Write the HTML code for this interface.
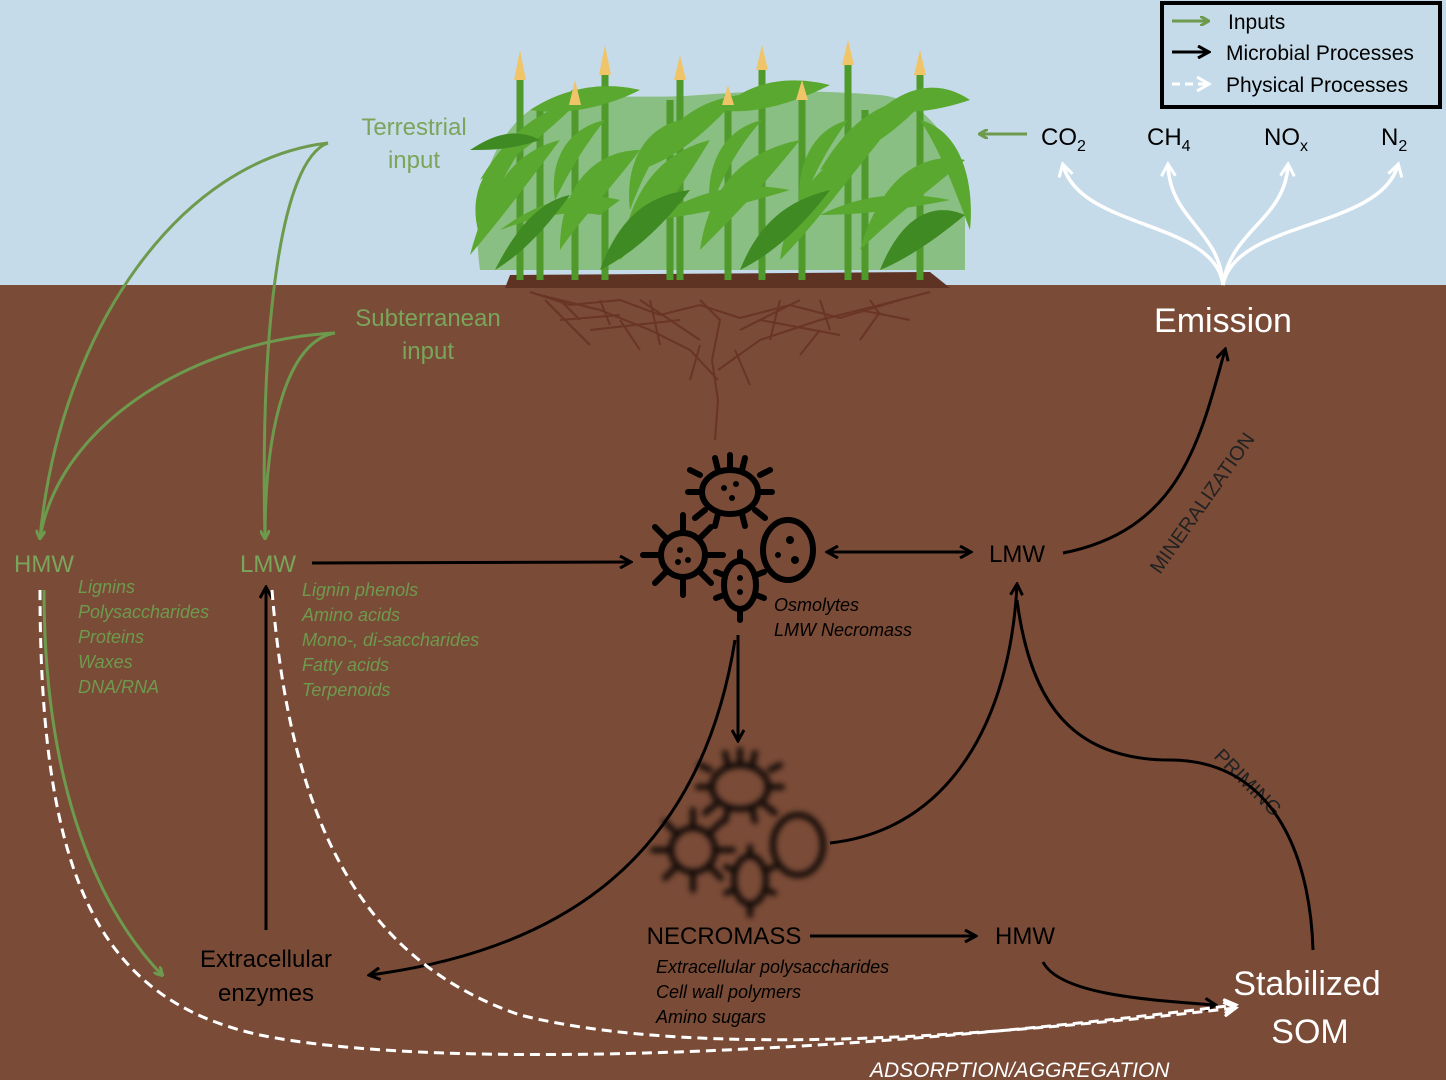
<!DOCTYPE html>
<html><head><meta charset="utf-8"><style>
html,body{margin:0;padding:0;width:1446px;height:1080px;overflow:hidden}
svg{display:block}
text{font-family:"Liberation Sans",sans-serif}
</style></head><body>
<svg width="1446" height="1080" viewBox="0 0 1446 1080" xmlns="http://www.w3.org/2000/svg">
<defs>
<marker id="ag" markerWidth="10" markerHeight="10" refX="8" refY="5" orient="auto" markerUnits="userSpaceOnUse"><path d="M0,0 L9,5 L0,10" fill="none" stroke="#6e9a4e" stroke-width="3"/></marker>
<marker id="ak" markerWidth="14" markerHeight="14" refX="11" refY="7" orient="auto" markerUnits="userSpaceOnUse"><path d="M1,1 L12,7 L1,13" fill="none" stroke="#000" stroke-width="3"/></marker>
<marker id="ak2" markerWidth="14" markerHeight="14" refX="3" refY="7" orient="auto" markerUnits="userSpaceOnUse"><path d="M13,1 L2,7 L13,13" fill="none" stroke="#000" stroke-width="3"/></marker>
<marker id="aw" markerWidth="16" markerHeight="16" refX="12" refY="8" orient="auto" markerUnits="userSpaceOnUse"><path d="M1,1 L13,8 L1,15" fill="none" stroke="#fff" stroke-width="3"/></marker>
<filter id="bl"><feGaussianBlur stdDeviation="3"/></filter>
</defs>
<rect width="1446" height="1080" fill="#7a4b37"/>
<rect width="1446" height="285" fill="#c6dbe9"/>

<!-- roots -->
<g stroke="#6a3524" stroke-width="2" fill="none">
<path d="M715,440 L718,400 L712,360 L720,320 L700,300"/>
<path d="M718,380 L690,350 L650,330 L600,310 L540,295"/>
<path d="M718,370 L760,340 L820,320 L880,305 L930,292"/>
<path d="M700,340 L640,300 M740,330 L800,300 M680,320 L590,330 M760,320 L840,335 M620,315 L560,320 M860,310 L910,320"/>
<path d="M560,300 L580,320 M600,300 L610,325 M650,300 L660,345 M780,300 L770,340 M820,300 L830,330 M870,300 L880,315"/>
<path d="M530,292 L570,305 L620,300 L660,315 L700,305 L740,318 L790,305 L840,318 L900,300 M545,300 L590,345 M620,320 L640,350 M820,330 L800,355 M880,312 L860,340 M700,345 L690,380 M735,350 L750,385"/>
</g>
<!-- soil mound -->
<path d="M505,288 L510,275 L930,272 L950,288 Z" fill="#5e3324"/>
<!-- corn -->
<g>
<path d="M480,270 C470,200 490,140 530,110 C580,90 640,100 700,95 C760,90 820,90 880,95 C930,100 960,150 965,200 L965,270 Z" fill="#5aa830" opacity="0.55"/>
<g stroke="#4f9a2a" stroke-width="7">
<line x1="520" y1="280" x2="520" y2="70"/><line x1="540" y1="280" x2="540" y2="110"/><line x1="575" y1="280" x2="575" y2="90"/><line x1="605" y1="280" x2="605" y2="65"/>
<line x1="670" y1="280" x2="670" y2="100"/><line x1="680" y1="280" x2="680" y2="70"/><line x1="728" y1="280" x2="728" y2="95"/><line x1="762" y1="280" x2="762" y2="60"/>
<line x1="802" y1="280" x2="802" y2="90"/><line x1="848" y1="280" x2="848" y2="55"/><line x1="865" y1="280" x2="865" y2="110"/><line x1="920" y1="280" x2="920" y2="65"/>
</g>
<g fill="#5aa830">
<path d="M470,255 C490,180 520,150 560,140 C530,180 500,220 470,255Z"/>
<path d="M480,180 C510,130 540,110 580,100 C540,140 510,160 480,180Z"/>
<path d="M560,250 C560,180 600,150 640,150 C610,190 580,220 560,250Z"/>
<path d="M530,110 C560,90 600,80 640,90 C600,110 560,115 530,110Z"/>
<path d="M620,260 C630,180 670,150 710,140 C680,190 650,230 620,260Z"/>
<path d="M640,170 C670,120 700,100 740,95 C700,140 670,160 640,170Z"/>
<path d="M700,250 C710,180 750,150 800,140 C760,190 730,220 700,250Z"/>
<path d="M720,110 C750,80 790,75 830,85 C790,105 750,115 720,110Z"/>
<path d="M780,260 C790,190 830,150 880,140 C840,190 810,230 780,260Z"/>
<path d="M820,170 C850,120 880,100 930,95 C890,140 850,160 820,170Z"/>
<path d="M860,250 C880,180 920,150 965,160 C930,190 890,220 860,250Z"/>
<path d="M880,110 C910,85 940,80 970,100 C940,110 910,115 880,110Z"/>
<path d="M500,230 C540,200 580,190 620,200 L600,215 C570,210 540,215 500,230Z"/>
<path d="M650,220 C700,190 740,180 790,190 C740,205 700,215 650,220Z"/>
<path d="M820,215 C860,195 900,190 950,200 C900,210 860,215 820,215Z"/>
<path d="M520,150 C480,160 470,200 478,230 C490,200 505,175 520,150Z"/>
<path d="M605,120 C560,130 550,170 555,200 C570,170 585,145 605,120Z"/>
<path d="M680,120 C640,130 625,170 630,210 C645,170 660,145 680,120Z"/>
<path d="M762,120 C720,130 705,170 710,210 C725,170 740,145 762,120Z"/>
<path d="M848,120 C810,130 795,170 800,210 C815,170 830,145 848,120Z"/>
<path d="M920,120 C960,130 975,180 970,230 C955,190 940,150 920,120Z"/>
</g>
<g fill="#3f8a22">
<path d="M495,270 C520,220 545,200 570,195 C545,230 520,255 495,270Z"/>
<path d="M600,270 C620,215 650,195 690,190 C660,230 630,255 600,270Z"/>
<path d="M740,270 C760,220 790,200 830,190 C800,230 770,255 740,270Z"/>
<path d="M880,270 C900,220 930,200 965,215 C935,240 905,260 880,270Z"/>
<path d="M470,150 C500,130 520,130 540,140 C510,150 490,150 470,150Z"/>
</g>
<g fill="#f0c56a">
<path d="M514,80 L520,50 L526,80 Z"/><path d="M569,105 L575,80 L581,105Z"/><path d="M599,75 L605,45 L611,75Z"/>
<path d="M674,80 L680,55 L686,80Z"/><path d="M722,105 L728,85 L734,105Z"/><path d="M756,70 L762,45 L768,70Z"/>
<path d="M796,100 L802,80 L808,100Z"/><path d="M842,65 L848,40 L854,65Z"/><path d="M914,75 L920,50 L926,75Z"/>
</g>
</g>

<!-- legend -->
<rect x="1162" y="3" width="278" height="104" fill="none" stroke="#000" stroke-width="4"/>
<line x1="1172" y1="21" x2="1208" y2="21" stroke="#6e9a4e" stroke-width="3" marker-end="url(#ag)"/>
<line x1="1172" y1="52" x2="1208" y2="52" stroke="#000" stroke-width="3" marker-end="url(#ak)"/>
<line x1="1172" y1="84" x2="1208" y2="84" stroke="#fff" stroke-width="3" stroke-dasharray="8,5" marker-end="url(#aw)"/>
<g font-size="21" fill="#000"><text x="1228" y="29">Inputs</text><text x="1226" y="60">Microbial Processes</text><text x="1226" y="92">Physical Processes</text></g>

<!-- gases -->
<line x1="1027" y1="134" x2="980" y2="134" stroke="#6e9a4e" stroke-width="3" marker-end="url(#ag)"/>
<g font-size="24" fill="#000"><text x="1041" y="145">CO<tspan font-size="16" dy="6">2</tspan></text><text x="1147" y="145">CH<tspan font-size="16" dy="6">4</tspan></text><text x="1264" y="145">NO<tspan font-size="16" dy="6">x</tspan></text><text x="1381" y="145">N<tspan font-size="16" dy="6">2</tspan></text></g>
<g stroke="#fff" stroke-width="3.5" fill="none">
<path d="M1223,285 C1215,220 1080,230 1063,165" marker-end="url(#aw)"/>
<path d="M1223,285 C1220,230 1170,220 1168,165" marker-end="url(#aw)"/>
<path d="M1223,285 C1230,230 1285,220 1288,165" marker-end="url(#aw)"/>
<path d="M1223,285 C1235,220 1380,230 1398,165" marker-end="url(#aw)"/>
</g>
<text x="1223" y="332" font-size="34" fill="#fff" text-anchor="middle">Emission</text>

<!-- green labels -->
<g fill="#7aa55a" font-size="24" text-anchor="middle">
<text x="414" y="135">Terrestrial</text><text x="414" y="168">input</text>
<text x="428" y="326">Subterranean</text><text x="428" y="359">input</text>
<text x="44" y="572">HMW</text><text x="268" y="572">LMW</text>
</g>
<g fill="#6e9a4e" font-size="18" font-style="italic">
<text x="78" y="593">Lignins</text><text x="78" y="618">Polysaccharides</text><text x="78" y="643">Proteins</text><text x="78" y="668">Waxes</text><text x="78" y="693">DNA/RNA</text>
<text x="302" y="596">Lignin phenols</text><text x="302" y="621">Amino acids</text><text x="302" y="646">Mono-, di-saccharides</text><text x="302" y="671">Fatty acids</text><text x="302" y="696">Terpenoids</text>
</g>
<g stroke="#6e9a4e" stroke-width="3" fill="none">
<path d="M328,143 C180,160 60,330 40,538" marker-end="url(#ag)"/>
<path d="M328,143 C280,160 260,330 265,538" marker-end="url(#ag)"/>
<path d="M335,333 C200,340 60,420 40,538"/>
<path d="M335,333 C290,340 265,420 265,538"/>
<path d="M44,590 C44,770 90,900 162,975" marker-end="url(#ag)"/>
</g>

<!-- black text -->
<g fill="#000">
<text x="266" y="967" font-size="24" text-anchor="middle">Extracellular</text><text x="266" y="1001" font-size="24" text-anchor="middle">enzymes</text>
<text x="1017" y="562" font-size="24" text-anchor="middle">LMW</text>
<text x="724" y="944" font-size="24" text-anchor="middle">NECROMASS</text>
<text x="1025" y="944" font-size="24" text-anchor="middle">HMW</text>
<g font-size="18" font-style="italic"><text x="774" y="611">Osmolytes</text><text x="774" y="636">LMW Necromass</text>
<text x="656" y="973">Extracellular polysaccharides</text><text x="656" y="998">Cell wall polymers</text><text x="656" y="1023">Amino sugars</text></g>
<g font-size="20" fill="#222"><text transform="translate(1160,575) rotate(-55)">MINERALIZATION</text><text transform="translate(1213,757) rotate(45)">PRIMING</text></g>
</g>
<text x="1307" y="995" font-size="34" fill="#fff" text-anchor="middle">Stabilized</text>
<text x="1310" y="1043" font-size="34" fill="#fff" text-anchor="middle">SOM</text>
<text x="870" y="1077" font-size="21" fill="#fff" font-style="italic">ADSORPTION/AGGREGATION</text>

<!-- black arrows -->
<g stroke="#000" stroke-width="3" fill="none">
<path d="M312,563 L630,562" marker-end="url(#ak)"/>
<path d="M828,552 L970,552" marker-start="url(#ak2)" marker-end="url(#ak)"/>
<path d="M1063,553 C1180,530 1200,440 1225,350" marker-end="url(#ak)"/>
<path d="M738,635 L738,740" marker-end="url(#ak)"/>
<path d="M735,640 C700,860 560,950 370,975" marker-end="url(#ak)"/>
<path d="M266,930 L266,588" marker-end="url(#ak)"/>
<path d="M830,843 C950,830 1010,720 1017,585" marker-end="url(#ak)"/>
<path d="M1313,950 C1310,850 1270,760 1170,760 C1070,760 1030,700 1017,600"/>
<path d="M810,936 L975,936" marker-end="url(#ak)"/>
<path d="M1043,962 C1060,995 1150,1000 1215,1005" marker-end="url(#ak)"/>
</g>
<!-- white dashed -->
<g stroke="#fff" stroke-width="3" fill="none" stroke-dasharray="10,6">
<path d="M40,590 C40,880 100,1000 260,1035 C420,1068 800,1060 1235,1005" marker-end="url(#aw)"/>
<path d="M272,590 C290,820 360,960 520,1015 C700,1060 1000,1035 1235,1008" marker-end="url(#aw)"/>
</g>

<!-- microbes -->
<g id="mic" stroke="#000" stroke-width="6" fill="none" stroke-linecap="round">
<ellipse cx="730" cy="492" rx="28" ry="22"/>
<path d="M700,475 L690,470 M702,492 L688,492 M705,510 L695,518 M760,475 L770,470 M758,492 L772,492 M755,510 L765,518 M718,470 L715,458 M730,470 L730,455 M742,470 L745,458 M718,514 L715,526 M742,514 L745,526"/>
<circle cx="683" cy="555" r="22"/>
<path d="M683,533 L683,515 M683,577 L683,595 M661,555 L643,555 M705,555 L723,555 M667,539 L655,527 M699,539 L711,527 M667,571 L655,583 M699,571 L711,583"/>
<ellipse cx="740" cy="585" rx="16" ry="24"/>
<path d="M724,575 L716,572 M724,595 L716,598 M756,575 L764,572 M756,595 L764,598 M740,561 L740,552 M740,609 L740,620"/>
<ellipse cx="788" cy="550" rx="25" ry="30"/>
</g>
<g fill="#000"><circle cx="724" cy="488" r="3"/><circle cx="736" cy="484" r="3"/><circle cx="732" cy="498" r="3"/><circle cx="680" cy="550" r="3"/><circle cx="688" cy="560" r="3"/><circle cx="678" cy="562" r="3"/><circle cx="740" cy="578" r="3"/><circle cx="740" cy="592" r="3"/><circle cx="778" cy="555" r="3"/><circle cx="790" cy="540" r="4"/><circle cx="795" cy="560" r="4"/></g>
<g filter="url(#bl)" opacity="0.85">
<use href="#mic" transform="translate(10,295)"/>
</g>
</svg>
</body></html>
